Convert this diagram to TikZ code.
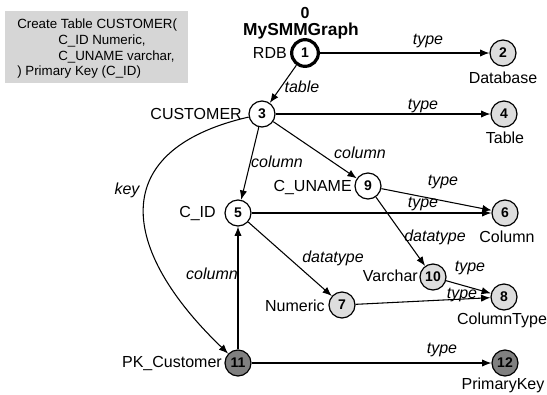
\documentclass[tikz,border=0pt]{standalone}
\usepackage{fontspec}
\setmainfont{Liberation Sans}
\usetikzlibrary{arrows.meta}
\definecolor{lightfill}{HTML}{DDDDDD}
\definecolor{darkfill}{HTML}{808080}
\definecolor{boxfill}{HTML}{D6D6D6}
\tikzset{
  vtx/.style={circle,draw=black,line width=0.9pt,minimum size=19.5pt,inner sep=0pt,font=\fontsize{10.5}{12}\selectfont\bfseries},
  wv/.style={vtx,fill=white},
  lv/.style={vtx,fill=lightfill},
  dv/.style={vtx,fill=darkfill},
  lbl/.style={inner sep=0pt,font=\fontsize{12}{14}\selectfont},
  elbl/.style={inner sep=0pt,font=\fontsize{12}{14}\selectfont\itshape},
  boxtxt/.style={inner sep=0pt,anchor=west,font=\fontsize{10}{12}\selectfont},
  conn/.style={line width=0.8pt,-{Latex[length=7pt,width=5.5pt]}},
}
\begin{document}
\begin{tikzpicture}[x=0.75pt,y=-0.75pt]
\useasboundingbox (0,0) rectangle (547,394);
% code box
\fill[boxfill] (5,11) rectangle (188,83);
\node[boxtxt] (b1) at (17,25) {Create Table CUSTOMER(};
\node[boxtxt] (b2) at (58,41) {C\_ID Numeric,};
\node[boxtxt] (b3) at (58,57) {C\_UNAME varchar,};
\node[boxtxt] (b4) at (17,72) {) Primary Key (C\_ID)};
% title
\node[lbl,font=\fontsize{12}{14}\selectfont\bfseries] (t0) at (305,13) {0};
\node[lbl,font=\fontsize{13}{15}\selectfont\bfseries] (t1) at (301,31) {MySMMGraph};
% vertices
\node[wv,line width=2.4pt,minimum size=20pt] (n1) at (305,53) {1};
\node[lv] (n2) at (503,53) {2};
\node[wv] (n3) at (262,114) {3};
\node[lv] (n4) at (504,114) {4};
\node[wv] (n5) at (238,213) {5};
\node[wv] (n9) at (368,186) {9};
\node[lv] (n6) at (505,213) {6};
\node[lv] (n10) at (433,277) {10};
\node[lv] (n8) at (504,297) {8};
\node[lv] (n7) at (342,305) {7};
\node[dv] (n11) at (238,363) {11};
\node[dv] (n12) at (505,363) {12};
% vertex labels
\node[lbl,anchor=east] (l1) at (287,53) {RDB};
\node[lbl] (l2) at (503,78) {Database};
\node[lbl,anchor=east] (l3) at (242,114) {CUSTOMER};
\node[lbl] (l4) at (505,138) {Table};
\node[lbl,anchor=east] (l9) at (352,187) {C\_UNAME};
\node[lbl,anchor=east] (l5) at (216,213) {C\_ID};
\node[lbl] (l6) at (507,237) {Column};
\node[lbl,anchor=east] (l10) at (418,276) {Varchar};
\node[lbl] (l8) at (502,320) {ColumnType};
\node[lbl,anchor=east] (l7) at (325,306) {Numeric};
\node[lbl,anchor=east] (l11) at (222,363) {PK\_Customer};
\node[lbl] (l12) at (503,385) {PrimaryKey};
% connectors
\draw[conn] (n1) -- (n2);
\draw[conn] (n1) -- (n3);
\draw[conn] (n3) -- (n4);
\draw[conn] (n3) -- (n5);
\draw[conn] (n3) -- (n9);
\draw[conn] (n9) -- (n6);
\draw[conn] (n5) -- (n6);
\draw[conn] (n9) -- (n10);
\draw[conn] (n5) -- (n7);
\draw[conn] (n10) -- (n8);
\draw[conn] (n7) -- (n8);
\draw[conn] (n11) -- (n5);
\draw[conn] (n11) -- (n12);
\draw[conn] (n3) .. controls (105,150) and (120,250) .. (n11);
% edge labels
\node[elbl] (e12) at (428,41) {type};
\node[elbl] (e13) at (302,87) {table};
\node[elbl] (e34) at (423,106) {type};
\node[elbl] (e35) at (277,162) {column};
\node[elbl] (e39) at (360,153) {column};
\node[elbl] (e96) at (443,182) {type};
\node[elbl] (e56) at (423,204) {type};
\node[elbl] (e910) at (435,237) {datatype};
\node[elbl] (e57) at (333,258) {datatype};
\node[elbl] (ekey) at (127,190) {key};
\node[elbl] (e115) at (212,274) {column};
\node[elbl] (e108) at (470,268) {type};
\node[elbl] (e78) at (462,295) {type};
\node[elbl] (e1112) at (442,350) {type};
\end{tikzpicture}
\end{document}
